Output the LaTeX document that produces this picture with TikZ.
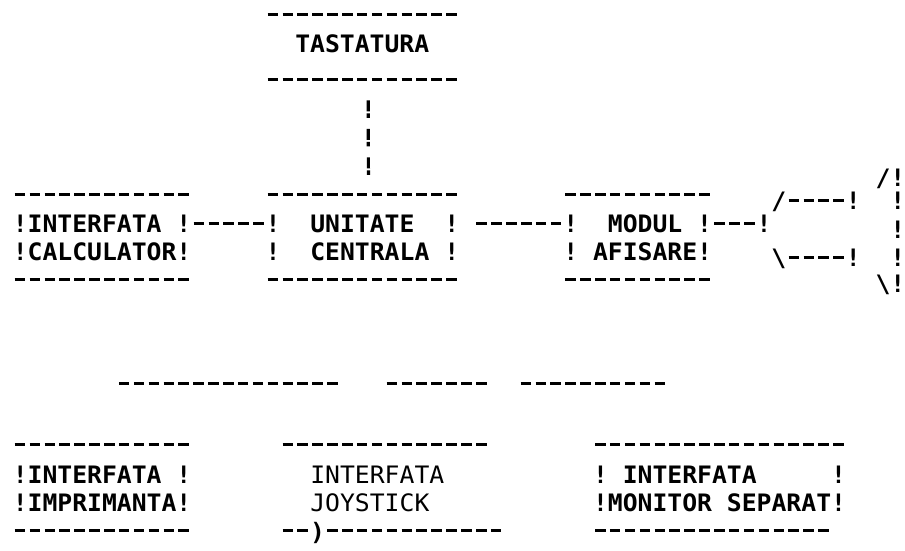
\documentclass[tikz,border=0pt]{standalone}
\usepackage{fontspec}
\newfontfamily\printerfam[FakeStretch=1.03]{DejaVu Sans Mono}
\newcommand{\prnbold}{\printerfam\bfseries\fontsize{24}{28}\selectfont}
\newcommand{\prnlight}{\printerfam\fontsize{24}{28}\selectfont}
\newcommand{\spc}{\hphantom{!}}
\begin{document}
\begin{tikzpicture}[x=14.88pt,y=-1pt,
    glyph/.style={font=\prnbold,inner sep=0pt,text depth=0pt},
    box text/.style={glyph,align=left,minimum height=85pt,anchor=west},
    dash row/.style={line width=3pt,dash pattern=on 10.5pt off 4.38pt,dash phase=12.69pt},
    bang line/.style={line width=3.2pt,dash pattern=on 11pt off 2pt on 4.5pt off 11pt,dash phase=22.25pt}]

  \path[fill=white,use as bounding box] (-1.344,0) rectangle (59.48,551);

  % boxes: x counts printer columns, y counts pixels
  \node[glyph,minimum height=72pt] (tast) at (23,44) {TASTATURA};
  \node[box text] (ic) at (-0.5,237.5) {!INTERFATA\spc!\\!CALCULATOR!};
  \node[box text] (uc) at (16.5,237.5) {!\spc\spc UNITATE\spc\spc!\\!\spc\spc CENTRALA\spc!};
  \node[box text] (ma) at (36.5,237.5) {!\spc\spc MODUL\spc!\\!\spc AFISARE!};
  \node[glyph] (plug) at (50,223.5) {!};

  \node[box text,minimum height=86pt] (ip) at (-0.5,489) {!INTERFATA\spc!\\!IMPRIMANTA!};
  \node[box text,minimum height=86pt,font=\prnlight] (ij) at (19.5,489) {INTERFATA\\JOYSTICK};
  \node[box text,minimum height=86pt] (ims) at (38.5,489) {!\spc INTERFATA\spc\spc\spc\spc\spc!\\!MONITOR\spc SEPARAT!};
  \node[glyph] (jack) at (20,531) {)};

  % monitor
  \node[glyph] (scrtl) at (51,201) {/};
  \node[glyph] (scrtr) at (56,201) {!};
  \node[glyph] (scrbl) at (51,257.5) {\textbackslash};
  \node[glyph] (scrbr) at (56,257.5) {!};
  \node[glyph] (edgetop) at (58,178) {/};
  \node[glyph] (edgebot) at (58,284) {\textbackslash};
  \foreach \y/\name in {178/a, 201/b, 229.5/c, 257.5/d, 284/e}
    \node[glyph] (side\name) at (59,\y) {!};

  % box borders and bus line
  \foreach \a/\b/\y in {17/29/15, 17/29/80, 0/11/195, 0/11/280, 17/29/195, 17/29/280, 37/46/195, 37/46/280,
                        7/21/384, 25/31/384, 34/43/384,
                        0/11/445, 0/11/531, 18/31/445, 18/19/531, 21/32/531, 39/55/445, 39/54/531}
    \draw[dash row] (\a-0.5,\y) -- (\b+0.5,\y);

  % links
  \draw[dash row] ([yshift=14pt]ic.east) -- ([yshift=14pt]uc.west);
  \draw[dash row] ([xshift=14.88pt,yshift=14pt]uc.east) -- ([yshift=14pt]ma.west);
  \draw[dash row] ([yshift=14pt]ma.east) -- ([yshift=14pt]ma.east -| plug.west);
  \draw[dash row] (scrtl.east) -- (scrtl.east -| scrtr.west);
  \draw[dash row] (scrbl.east) -- (scrbl.east -| scrbr.west);
  \draw[bang line] ([xshift=6pt,yshift=-14pt]tast.south) -- ([xshift=6pt,yshift=12pt]uc.north);
\end{tikzpicture}
\end{document}
